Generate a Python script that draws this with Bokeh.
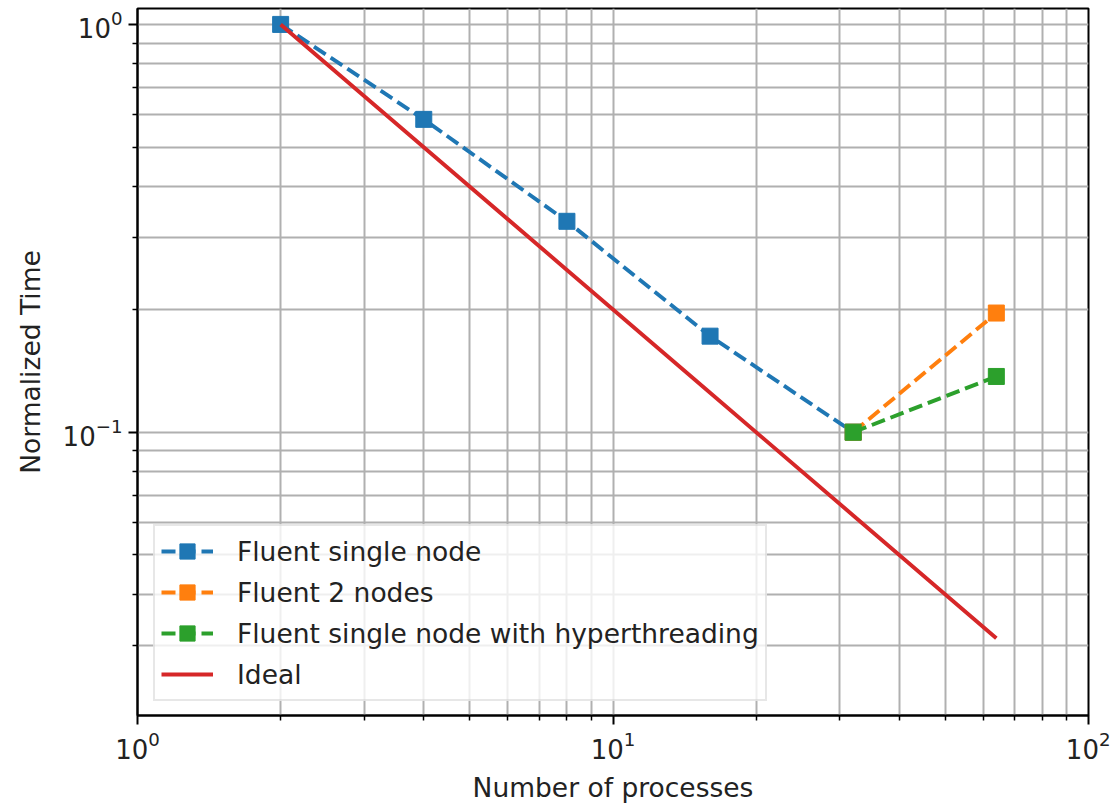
from bokeh.plotting import figure
from bokeh.models import FixedTicker, Legend, LegendItem, LogTickFormatter
from bokeh.embed import file_html
from bokeh.resources import INLINE

# Scaling study: normalized wall time against number of processes
procs_single = [2, 4, 8, 16, 32]
time_single = [1.0, 0.585, 0.329, 0.172, 0.1]

procs_two_nodes = [32, 64]
time_two_nodes = [0.1, 0.196]

procs_hyper = [32, 64]
time_hyper = [0.1, 0.137]

procs_ideal = [2, 4, 8, 16, 32, 64]
time_ideal = [2.0 / n for n in procs_ideal]

x_major = [1, 10, 100]
x_minor = [2, 3, 4, 5, 6, 7, 8, 9, 20, 30, 40, 50, 60, 70, 80, 90]
y_major = [0.1, 1.0]
y_minor = [0.02, 0.03, 0.04, 0.05, 0.06, 0.07, 0.08, 0.09,
           0.2, 0.3, 0.4, 0.5, 0.6, 0.7, 0.8, 0.9]

BLUE, ORANGE, GREEN, RED = "#1f77b4", "#ff7f0e", "#2ca02c", "#d62728"
FONT = "DejaVu Sans"
FS = "26.5px"
TICK_FS = "26px"

p = figure(width=1110, height=807, x_axis_type="log", y_axis_type="log",
           x_range=(1, 100), y_range=(0.0202, 1.094),
           output_backend="svg", toolbar_location=None,
           min_border_left=137, min_border_right=22,
           min_border_top=8, min_border_bottom=92)

p.background_fill_color = "white"
p.outline_line_color = "black"
p.outline_line_width = 2

p.xaxis.ticker = FixedTicker(ticks=x_major, minor_ticks=x_minor)
p.yaxis.ticker = FixedTicker(ticks=y_major, minor_ticks=y_minor)
p.xaxis.formatter = LogTickFormatter()
p.yaxis.formatter = LogTickFormatter()

for ax in (p.xaxis[0], p.yaxis[0]):
    ax.axis_line_color = "black"
    ax.axis_line_width = 2
    ax.major_tick_line_width = 2
    ax.minor_tick_line_width = 1.5
    ax.major_tick_out = 9
    ax.major_tick_in = 0
    ax.minor_tick_out = 5
    ax.minor_tick_in = 0
    ax.major_label_text_font = FONT
    ax.major_label_text_font_size = TICK_FS
    ax.major_label_text_color = "#222222"
    ax.axis_label_text_font = FONT
    ax.axis_label_text_font_size = FS
    ax.axis_label_text_font_style = "normal"
    ax.axis_label_text_color = "#222222"
    ax.major_label_standoff = 6

p.xaxis.axis_label = "Number of processes"
p.yaxis.axis_label = "Normalized Time"
p.xaxis.axis_label_standoff = 10
p.yaxis.axis_label_standoff = 14

for g in (p.xgrid[0], p.ygrid[0]):
    g.grid_line_color = "#b0b0b0"
    g.grid_line_width = 2
    g.minor_grid_line_color = "#b0b0b0"
    g.minor_grid_line_width = 2

LW = 3.9
DASH = "14 6"
MS = 16

l1 = p.line(procs_single, time_single, line_color=BLUE, line_width=LW, line_dash=DASH)
m1 = p.scatter(procs_single, time_single, marker="square", size=MS,
               fill_color=BLUE, line_color=BLUE)
l2 = p.line(procs_two_nodes, time_two_nodes, line_color=ORANGE, line_width=LW, line_dash=DASH)
m2 = p.scatter(procs_two_nodes, time_two_nodes, marker="square", size=MS,
               fill_color=ORANGE, line_color=ORANGE)
l3 = p.line(procs_hyper, time_hyper, line_color=GREEN, line_width=LW, line_dash=DASH)
m3 = p.scatter(procs_hyper, time_hyper, marker="square", size=MS,
               fill_color=GREEN, line_color=GREEN)
l4 = p.line(procs_ideal, time_ideal, line_color=RED, line_width=LW)

legend = Legend(items=[
    LegendItem(label="Fluent single node", renderers=[l1, m1]),
    LegendItem(label="Fluent 2 nodes", renderers=[l2, m2]),
    LegendItem(label="Fluent single node with hyperthreading", renderers=[l3, m3]),
    LegendItem(label="Ideal", renderers=[l4]),
])
legend.location = (16, 14)
legend.label_text_font = FONT
legend.label_text_font_size = FS
legend.label_text_color = "#222222"
legend.glyph_width = 52
legend.glyph_height = 38
legend.label_standoff = 24
legend.padding = 6
legend.spacing = 3
legend.margin = 0
legend.border_line_color = "#d0d0d0"
legend.border_line_width = 2
legend.background_fill_alpha = 0.8
legend.label_height = 30
p.add_layout(legend, "center")

open("out.html", "w").write(file_html(p, INLINE))
